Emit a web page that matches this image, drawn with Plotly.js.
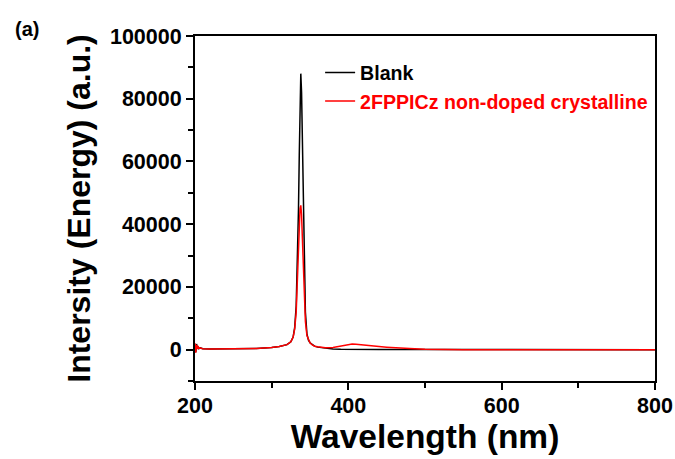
<!DOCTYPE html>
<html>
<head>
<meta charset="utf-8">
<script src="https://cdn.plot.ly/plotly-3.0.1.min.js"></script>
<style>html,body{margin:0;padding:0;background:#fff;}#chart{width:675px;height:459px;}</style>
</head>
<body>
<div id="chart"></div>
<script>
var wavelength = [200,201,202,203,204,205,207,210,220,240,260,280,300,310,320,325,328,330,332,334,335,336,337,338,339,340,341,342,343,344,346,348,350,353,356,360,365,370,380,390,400,405,410,420,430,440,450,460,480,500,520,550,600,650,700,750,800];
var blank = [1500,-800,1800,500,1000,300,600,300,200,200,300,400,700,1000,1600,2500,4000,7000,14000,30000,45000,62000,78000,88000,82000,66000,48000,32000,20000,12000,5000,3000,2200,1500,1100,800,600,400,200,100,50,50,50,50,50,50,50,50,0,0,0,0,0,0,0,0,0];
var crystalline = [2000,-1000,1500,200,1200,400,500,300,200,200,300,400,700,1000,1600,2500,4000,6500,12000,24000,32000,40000,45000,46000,43000,36000,28000,20000,13000,9000,4500,3000,2200,1500,1100,900,700,600,700,1100,1600,1800,1700,1400,1200,1000,800,600,350,150,50,0,0,0,0,0,0];
var seriesNames = ['Blank', '2FPPICz non-doped crystalline'];
var xTickVals = [200,400,600,800];
var yTickVals = [0,20000,40000,60000,80000,100000];

var font = 'Arial, "Liberation Sans", sans-serif';
var traces = [
  {x: wavelength, y: blank, type: 'scatter', mode: 'lines', name: '<b>' + seriesNames[0] + '</b>',
   line: {color: '#000000', width: 1.5}},
  {x: wavelength, y: crystalline, type: 'scatter', mode: 'lines',
   name: '<b><span style="color:#ff0000">' + seriesNames[1] + '</span></b>',
   line: {color: '#ff0000', width: 1.5}}
];
var layout = {
  width: 675, height: 459,
  margin: {l: 195, r: 20, t: 36, b: 78},
  paper_bgcolor: '#fff', plot_bgcolor: '#fff',
  font: {family: font, color: '#000'},
  showlegend: true,
  legend: {x: 0.272, xanchor: 'left', y: 0.95, yanchor: 'top', bgcolor: 'rgba(0,0,0,0)',
           font: {size: 19.6, family: font, color: '#000'}, tracegroupgap: 0},
  xaxis: {range: [200, 800], tickvals: xTickVals, ticktext: xTickVals.map(String),
          showgrid: false, zeroline: false, showline: true, linewidth: 2, linecolor: '#000', mirror: true,
          ticks: 'outside', ticklen: 7, tickwidth: 2, tickcolor: '#000', ticklabelstandoff: -3,
          minor: {tickvals: [300,500,700], ticks: 'outside', ticklen: 5, tickwidth: 2, tickcolor: '#000'},
          tickfont: {size: 21.5, family: font, weight: 'bold'},
          title: {text: '<b>Wavelength (nm)</b>', font: {size: 33.5, family: font}, standoff: 8}},
  yaxis: {range: [-10000, 100000], tickvals: yTickVals, ticktext: yTickVals.map(String),
          showgrid: false, zeroline: false, showline: true, linewidth: 2, linecolor: '#000', mirror: true,
          ticks: 'outside', ticklen: 7, tickwidth: 2, tickcolor: '#000',
          minor: {tickvals: [-10000,10000,30000,50000,70000,90000], ticks: 'outside', ticklen: 5, tickwidth: 2, tickcolor: '#000'},
          tickfont: {size: 21.5, family: font, weight: 'bold'},
          title: {text: '<b>Intersity (Energy) (a.u.)</b>', font: {size: 32, family: font}, standoff: 10}},
  annotations: [{text: '<b>(a)</b>', xref: 'paper', yref: 'paper', x: -0.396, y: 1.02,
                 xanchor: 'left', yanchor: 'middle', showarrow: false, font: {size: 20, family: font}}]
};
Plotly.newPlot('chart', traces, layout, {displayModeBar: false, staticPlot: true});
</script>
</body>
</html>
